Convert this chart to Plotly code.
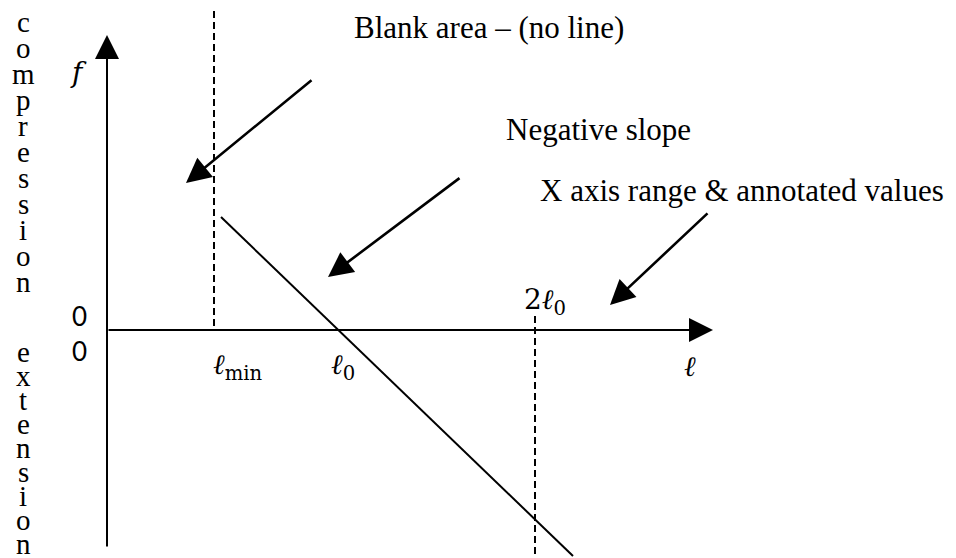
import plotly.graph_objects as go

# diagram units: origin where the f axis meets the l axis, 1 unit = 100 px
# axes ends
f_axis_y = [-2.18, 2.95]
l_axis_x = [0.0, 6.06]

# marked values on the l axis
l_min = 1.07
l_zero = 2.33
two_l_zero = 4.28

# dashed guide lines (top, bottom)
lmin_guide_y = [3.30, 0.0]
two_l0_guide_y = [0.14, -2.28]

# force-length line (negative slope)
force_x = [1.14, 4.66]
force_y = [1.13, -2.26]

# pointer arrows: start -> tip
arrow_start_x = [2.06, 3.54, 6.02]
arrow_start_y = [2.51, 1.53, 1.18]
arrow_tip_x = [0.79, 2.21, 5.03]
arrow_tip_y = [1.47, 0.53, 0.25]

notes = ["Blank area – (no line)", "Negative slope", "X axis range &amp; annotated values"]
notes_x = [2.45, 3.97, 4.31]
notes_y = [3.03, 2.01, 1.40]

word_up = "compression"
word_down = "extension"

serif = "Liberation Serif"
math = "DejaVu Serif"

fig = go.Figure()

# dashed guides
fig.add_trace(go.Scatter(x=[l_min, l_min], y=lmin_guide_y, mode="lines",
                         line=dict(color="black", width=2, dash="7px,4px")))
fig.add_trace(go.Scatter(x=[two_l_zero, two_l_zero], y=two_l0_guide_y, mode="lines",
                         line=dict(color="black", width=2, dash="7px,4px")))

# the line
fig.add_trace(go.Scatter(x=force_x, y=force_y, mode="lines",
                         line=dict(color="black", width=2)))

# axes with arrow heads
fig.add_annotation(x=0, y=f_axis_y[1], ax=0, ay=f_axis_y[0], xref="x", yref="y",
                   axref="x", ayref="y", showarrow=True, arrowhead=2, arrowsize=2.4,
                   arrowwidth=2, arrowcolor="black", text="", standoff=0)
fig.add_annotation(x=l_axis_x[1], y=0, ax=l_axis_x[0], ay=0, xref="x", yref="y",
                   axref="x", ayref="y", showarrow=True, arrowhead=2, arrowsize=2.4,
                   arrowwidth=2, arrowcolor="black", text="", standoff=0)

# pointer arrows
for sx, sy, tx, ty in zip(arrow_start_x, arrow_start_y, arrow_tip_x, arrow_tip_y):
    fig.add_annotation(x=tx, y=ty, ax=sx, ay=sy, xref="x", yref="y", axref="x", ayref="y",
                       showarrow=True, arrowhead=2, arrowsize=1.9, arrowwidth=2.6,
                       arrowcolor="black", text="", standoff=0)

# notes
for t, x, y in zip(notes, notes_x, notes_y):
    fig.add_annotation(x=x, y=y, text=t, showarrow=False, xanchor="left",
                       font=dict(family=serif, size=31, color="black"))

# axis labels
lab = dict(showarrow=False, font=dict(family=math, size=28, color="black"))
fig.add_annotation(x=l_min + 0.24, y=-0.36, text="<i>ℓ</i><sub>min</sub>", **lab)
fig.add_annotation(x=l_zero + 0.03, y=-0.36, text="<i>ℓ</i><sub>0</sub>", **lab)
fig.add_annotation(x=two_l_zero + 0.10, y=0.29, text="2<i>ℓ</i><sub>0</sub>", **lab)
fig.add_annotation(x=5.83, y=-0.36, text="<i>ℓ</i>", **lab)
fig.add_annotation(x=-0.29, y=2.58, text="<i>f</i>", **lab)
fig.add_annotation(x=-0.28, y=0.14, text="0", showarrow=False,
                   font=dict(family="Lato", size=26, color="black"))
fig.add_annotation(x=-0.28, y=-0.21, text="0", showarrow=False,
                   font=dict(family="Lato", size=26, color="black"))

# stacked letters on the left
for i, ch in enumerate(word_up):
    fig.add_annotation(x=-0.84, y=3.08 - i * 0.26, text=ch, showarrow=False,
                       font=dict(family=serif, size=29, color="black"))
for i, ch in enumerate(word_down):
    fig.add_annotation(x=-0.84, y=-0.22 - i * 0.24, text=ch, showarrow=False,
                       font=dict(family=serif, size=29, color="black"))

# the page puts the figure 8 px down and right, so the ranges are shifted by 8 px
fig.update_layout(width=956, height=558, margin=dict(l=0, r=0, t=0, b=0),
                  paper_bgcolor="white", plot_bgcolor="white", showlegend=False,
                  xaxis=dict(range=[-0.99, 8.57], visible=False),
                  yaxis=dict(range=[-2.36, 3.22], visible=False))

fig.write_html("out.html")
